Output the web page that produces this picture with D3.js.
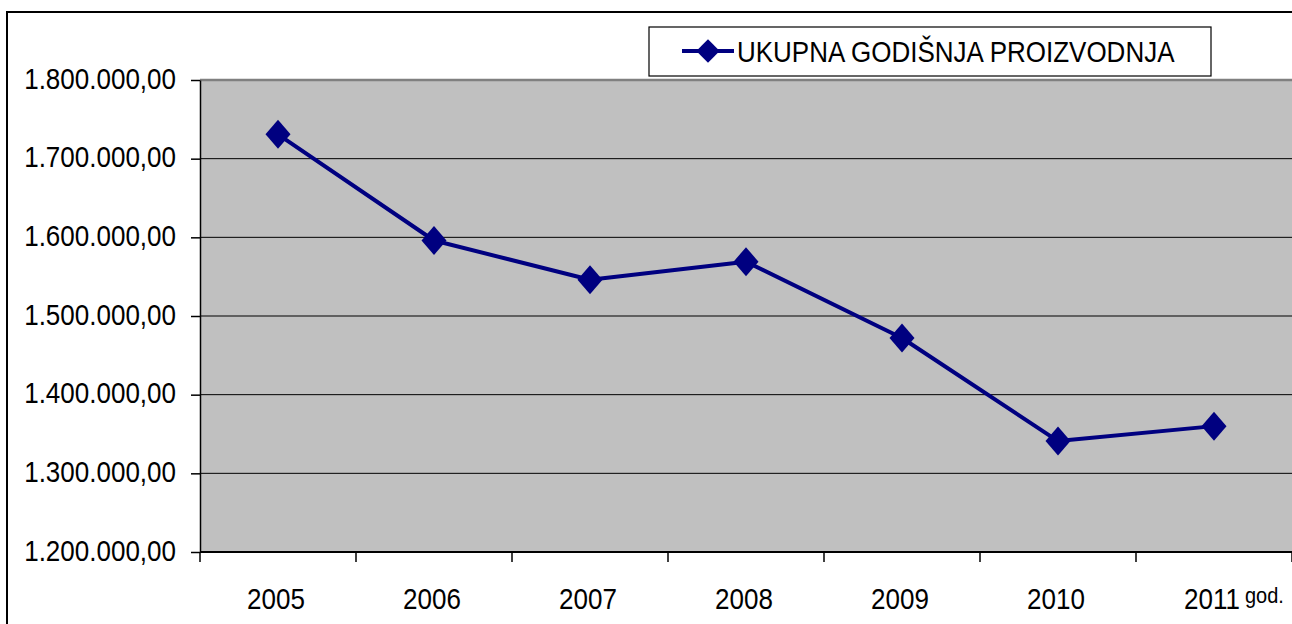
<!DOCTYPE html>
<head>
    <meta charset="utf-8">
    <title>Ukupna godišnja proizvodnja</title>
    <style>
        body { margin: 0; background: #fff; }
        text { font-family: "Liberation Sans", Arial, sans-serif; fill: #000; }
    </style>
</head>

<body>

<svg width="1292" height="624"></svg>

<script src="https://d3js.org/d3.v7.min.js"></script>

<script>

    // data
    var years = ["2005", "2006", "2007", "2008", "2009", "2010", "2011"];
    var production = [1731000, 1596000, 1546000, 1569000, 1472000, 1341000, 1360000];
    var yTicks = [1200000, 1300000, 1400000, 1500000, 1600000, 1700000, 1800000];
    var seriesName = "UKUPNA GODIŠNJA PROIZVODNJA";
    var unitLabel = "god.";

    var svg = d3.select("svg"),
        plot = {left: 200, right: 1292, top: 80, bottom: 552};

    // 1.800.000,00 style numbers
    var locale = d3.formatLocale({decimal: ",", thousands: ".", grouping: [3], currency: ["", ""]});
    var fmt = locale.format(",.2f");

    var x = d3.scaleBand().domain(years).range([plot.left, plot.right]).padding(0),
        y = d3.scaleLinear().domain([1200000, 1800000]).range([plot.bottom, plot.top]);

    var data = years.map(function(d, i) { return {year: d, value: production[i]}; });

    // outer chart border (runs off the right and bottom of the picture)
    svg.append("rect")
        .attr("x", 7).attr("y", 12)
        .attr("width", 1400).attr("height", 700)
        .attr("fill", "#fff")
        .attr("stroke", "#000").attr("stroke-width", 2);

    // plot area
    svg.append("rect")
        .attr("x", plot.left).attr("y", plot.top)
        .attr("width", plot.right - plot.left).attr("height", plot.bottom - plot.top)
        .attr("fill", "#c0c0c0");

    // gridlines
    svg.append("g").selectAll("line")
        .data(yTicks.slice(1, -1))
        .enter().append("line")
        .attr("x1", plot.left).attr("x2", plot.right)
        .attr("y1", function(d) { return y(d); })
        .attr("y2", function(d) { return y(d); })
        .attr("stroke", "#000").attr("stroke-width", 1);

    // plot area border on top
    svg.append("line")
        .attr("x1", plot.left).attr("x2", plot.right + 2)
        .attr("y1", plot.top).attr("y2", plot.top)
        .attr("stroke", "#808080").attr("stroke-width", 2.5);

    // y axis
    var yAxis = svg.append("g")
        .attr("transform", "translate(" + plot.left + ",0)")
        .call(d3.axisLeft(y).tickValues(yTicks).tickFormat(fmt).tickSize(9).tickSizeOuter(0));

    yAxis.select(".domain").attr("stroke", "#000").attr("stroke-width", 1.5);
    yAxis.selectAll(".tick line").attr("stroke", "#000").attr("stroke-width", 1.5);
    yAxis.selectAll(".tick text")
        .attr("x", 0).attr("y", 0).attr("dy", null)
        .attr("transform", "translate(-24,8) scale(1,1.1)")
        .style("font-size", "26px")
        .style("font-family", "'Liberation Sans', Arial, sans-serif");

    // x axis: labels at band centres, ticks at band edges
    var xAxis = svg.append("g")
        .attr("transform", "translate(0," + plot.bottom + ")")
        .call(d3.axisBottom(x).tickSize(0).tickSizeOuter(0));

    xAxis.select(".domain").remove();
    xAxis.selectAll(".tick text")
        .attr("y", 0).attr("dy", null)
        .attr("transform", "translate(-2,57) scale(1,1.13)")
        .style("font-size", "26px")
        .style("font-family", "'Liberation Sans', Arial, sans-serif");

    var edges = years.map(function(d) { return x(d); }).concat([plot.right]);

    xAxis.append("g").selectAll("line")
        .data(edges)
        .enter().append("line")
        .attr("x1", function(d) { return d; }).attr("x2", function(d) { return d; })
        .attr("y1", 0).attr("y2", 10)
        .attr("stroke", "#000").attr("stroke-width", 1.5);

    xAxis.append("line")
        .attr("x1", plot.left).attr("x2", plot.right)
        .attr("stroke", "#000").attr("stroke-width", 2);

    // "god." unit next to the last year
    svg.append("text")
        .attr("transform", "translate(1245,603) scale(1,1.12)")
        .style("font-size", "20px")
        .text(unitLabel);

    // series
    var line = d3.line()
        .x(function(d) { return x(d.year) + x.bandwidth() / 2; })
        .y(function(d) { return y(d.value); });

    svg.append("path")
        .datum(data)
        .attr("fill", "none")
        .attr("stroke", "#000080")
        .attr("stroke-width", 4)
        .attr("stroke-linejoin", "round")
        .attr("d", line);

    function diamond(w, h) {
        return "M0," + (-h) + "L" + w + ",0L0," + h + "L" + (-w) + ",0Z";
    }

    svg.append("g").selectAll("path")
        .data(data)
        .enter().append("path")
        .attr("transform", function(d) {
            return "translate(" + (x(d.year) + x.bandwidth() / 2) + "," + y(d.value) + ")";
        })
        .attr("d", diamond(12.5, 14.5))
        .attr("fill", "#000080");

    // legend
    var legend = svg.append("g");

    legend.append("rect")
        .attr("x", 649).attr("y", 27)
        .attr("width", 562).attr("height", 49)
        .attr("fill", "#fff")
        .attr("stroke", "#000").attr("stroke-width", 1.2);

    legend.append("line")
        .attr("x1", 682).attr("x2", 734)
        .attr("y1", 51).attr("y2", 51)
        .attr("stroke", "#000080").attr("stroke-width", 4);

    legend.append("path")
        .attr("transform", "translate(708,51)")
        .attr("d", diamond(11.7, 11.7))
        .attr("fill", "#000080");

    legend.append("text")
        .attr("transform", "translate(737,62) scale(1,1.15)")
        .style("font-size", "26px")
        .text(seriesName);

</script>

</body>
